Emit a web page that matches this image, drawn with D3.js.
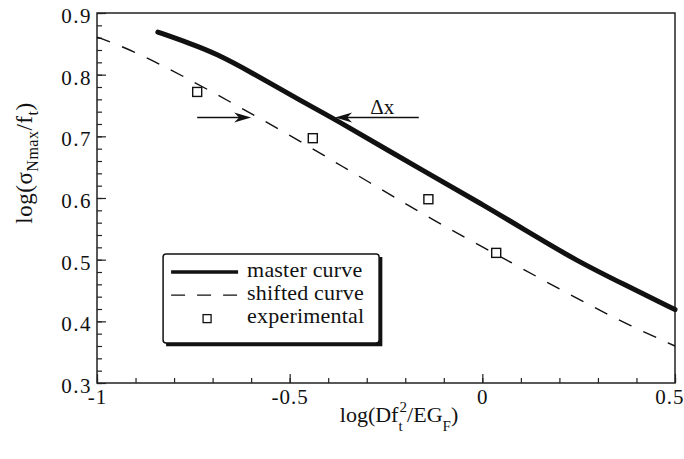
<!DOCTYPE html>
<html>
<head>
<meta charset="utf-8">
<script src="https://cdn.jsdelivr.net/npm/d3@7"></script>
<style>
  body { margin: 0; background: #fff; }
  svg { display: block; }
  svg text { font-family: "Liberation Serif", "Times New Roman", serif !important; fill: #111; }
</style>
</head>
<body>
<div id="chart"></div>
<script>
// data
const masterCurve = [
  [-0.842, 0.869], [-0.76, 0.851], [-0.69, 0.834], [-0.6, 0.804], [-0.47, 0.757],
  [-0.38, 0.727], [-0.14, 0.639], [0, 0.59], [0.14, 0.537], [0.24, 0.5],
  [0.37, 0.459], [0.5, 0.419],
];
const shiftedCurve = [
  [-1, 0.861], [-0.91, 0.84], [-0.78, 0.799], [-0.64, 0.751], [-0.5, 0.702],
  [-0.36, 0.65], [-0.23, 0.602], [-0.09, 0.551], [0.05, 0.504], [0.25, 0.435],
  [0.39, 0.391], [0.5, 0.36],
];
const experimental = [
  [-0.74, 0.772], [-0.44, 0.697], [-0.14, 0.598], [0.036, 0.511],
];
const xTicks = [-1, -0.5, 0, 0.5];
const yTicks = [0.3, 0.4, 0.5, 0.6, 0.7, 0.8, 0.9];
const legendLabels = ["master curve", "shifted curve", "experimental"];

const serif = "'Liberation Serif', 'Times New Roman', serif";

const width = 684,
  height = 459;
const margin = { top: 13, right: 9, bottom: 76, left: 97 };
const innerWidth = width - margin.left - margin.right,
  innerHeight = height - margin.top - margin.bottom;

const svg = d3
  .select("#chart")
  .append("svg")
  .attr("width", width)
  .attr("height", height)
  .attr("font-family", serif);

const g = svg.append("g").attr("transform", `translate(${margin.left},${margin.top})`);

const xScale = d3.scaleLinear().domain([-1, 0.5]).range([0, innerWidth]);
const yScale = d3.scaleLinear().domain([0.3, 0.9]).range([innerHeight, 0]);

// minor ticks
g.append("g")
  .attr("transform", `translate(0,${innerHeight})`)
  .call(d3.axisBottom(xScale).tickValues(d3.range(-10, 6).map((d) => d / 10)).tickSize(-5).tickFormat(""))
  .call((a) => a.select(".domain").remove());
g.append("g")
  .call(d3.axisLeft(yScale).tickValues(d3.range(15, 46).map((d) => d / 50)).tickSize(-5).tickFormat(""))
  .call((a) => a.select(".domain").remove());

// major ticks + labels
const xAxis = g
  .append("g")
  .attr("transform", `translate(0,${innerHeight})`)
  .call(d3.axisBottom(xScale).tickValues(xTicks).tickSize(-9).tickPadding(6).tickFormat((d) => String(d)))
  .attr("font-family", serif);
xAxis.selectAll("text").attr("font-size", 21).style("letter-spacing", "1px");
xAxis
  .selectAll("text")
  .filter((d) => d === 0.5)
  .attr("text-anchor", "end")
  .attr("x", 9);

const yAxis = g
  .append("g")
  .call(d3.axisLeft(yScale).tickValues(yTicks).tickSize(-9).tickPadding(5).tickFormat(d3.format(".1f")))
  .attr("font-family", serif);
yAxis.selectAll("text").attr("font-size", 21).attr("dy", "0.45em").style("letter-spacing", "1.5px");

svg.selectAll(".tick line").attr("stroke", "#222").attr("stroke-width", 1.2);
svg.selectAll(".domain").remove();

// frame
g.append("rect")
  .attr("width", innerWidth)
  .attr("height", innerHeight)
  .attr("fill", "none")
  .attr("stroke", "#222")
  .attr("stroke-width", 1.5);

const line = d3
  .line()
  .x((d) => xScale(d[0]))
  .y((d) => yScale(d[1]))
  .curve(d3.curveBasis);

g.append("path")
  .datum(shiftedCurve)
  .attr("d", line)
  .attr("fill", "none")
  .attr("stroke", "#111")
  .attr("stroke-width", 1.4)
  .attr("stroke-dasharray", "14,13");

g.append("path")
  .datum(masterCurve)
  .attr("d", line)
  .attr("fill", "none")
  .attr("stroke", "#111")
  .attr("stroke-width", 5)
  .attr("stroke-linecap", "round");

const sq = 9;
g.selectAll(".exp")
  .data(experimental)
  .join("rect")
  .attr("class", "exp")
  .attr("x", (d) => xScale(d[0]) - sq / 2)
  .attr("y", (d) => yScale(d[1]) - sq / 2)
  .attr("width", sq)
  .attr("height", sq)
  .attr("fill", "#fff")
  .attr("stroke", "#111")
  .attr("stroke-width", 1.4);

// arrows showing the shift
function arrow(x1, x2, y) {
  const dir = x2 > x1 ? 1 : -1;
  g.append("line")
    .attr("x1", x1)
    .attr("x2", x2 - dir * 10)
    .attr("y1", y)
    .attr("y2", y)
    .attr("stroke", "#111")
    .attr("stroke-width", 1.5);
  g.append("path")
    .attr("d", `M${x2},${y} L${x2 - dir * 17},${y - 5} L${x2 - dir * 12},${y} L${x2 - dir * 17},${y + 5} Z`)
    .attr("fill", "#111");
}
arrow(xScale(-0.74), xScale(-0.6), yScale(0.7305));
arrow(xScale(-0.165), xScale(-0.382), yScale(0.7305));

g.append("text")
  .attr("x", xScale(-0.26))
  .attr("y", yScale(0.737))
  .attr("text-anchor", "middle")
  .attr("font-size", 21)
  .text("Δx");

// legend
const lg = g.append("g").attr("transform", `translate(${xScale(-0.8285)},${yScale(0.509)})`);
const lw = 216,
  lh = 89;
lg.append("path")
  .attr("d", `M3,${lh + 1} H${lw + 1} V3`)
  .attr("fill", "none")
  .attr("stroke", "#111")
  .attr("stroke-width", 4.5);
lg.append("rect")
  .attr("width", lw)
  .attr("height", lh)
  .attr("rx", 3)
  .attr("fill", "#fff")
  .attr("stroke", "#111")
  .attr("stroke-width", 1.5);

legendLabels.forEach((t, i) => {
  const y = 18 + i * 23;
  if (i === 0) {
    lg.append("line").attr("x1", 8).attr("x2", 75).attr("y1", y).attr("y2", y).attr("stroke", "#111").attr("stroke-width", 3.5);
  } else if (i === 1) {
    lg.append("line").attr("x1", 8).attr("x2", 75).attr("y1", y).attr("y2", y).attr("stroke", "#111").attr("stroke-width", 1.3).attr("stroke-dasharray", "14,12");
  } else {
    lg.append("rect").attr("x", 40).attr("y", y - 3.5).attr("width", 8).attr("height", 8).attr("fill", "#fff").attr("stroke", "#111").attr("stroke-width", 1.3);
  }
  lg.append("text").attr("x", 84).attr("y", y + 5).attr("font-size", 22).style("letter-spacing", "0.2px").text(t);
});

// axis titles
const xt = svg
  .append("text")
  .attr("x", 399)
  .attr("y", 422)
  .attr("text-anchor", "middle")
  .attr("font-size", 22);
xt.append("tspan").text("log(Df");
xt.append("tspan").attr("font-size", 15).attr("dy", 9).text("t");
xt.append("tspan").attr("font-size", 15).attr("dy", -19).attr("dx", -3).text("2");
xt.append("tspan").attr("dy", 10).text("/EG");
xt.append("tspan").attr("font-size", 15).attr("dy", 9).text("F");
xt.append("tspan").attr("dy", -9).text(")");

const yt = svg
  .append("text")
  .attr("transform", "translate(32,163) rotate(-90)")
  .attr("text-anchor", "middle")
  .attr("font-size", 23)
  .style("letter-spacing", "0.5px");
yt.append("tspan").text("log(σ");
yt.append("tspan").attr("font-size", 16).attr("dy", 6).text("Nmax");
yt.append("tspan").attr("dy", -6).text("/f");
yt.append("tspan").attr("font-size", 16).attr("dy", 6).text("t");
yt.append("tspan").attr("dy", -6).text(")");
</script>
</body>
</html>
